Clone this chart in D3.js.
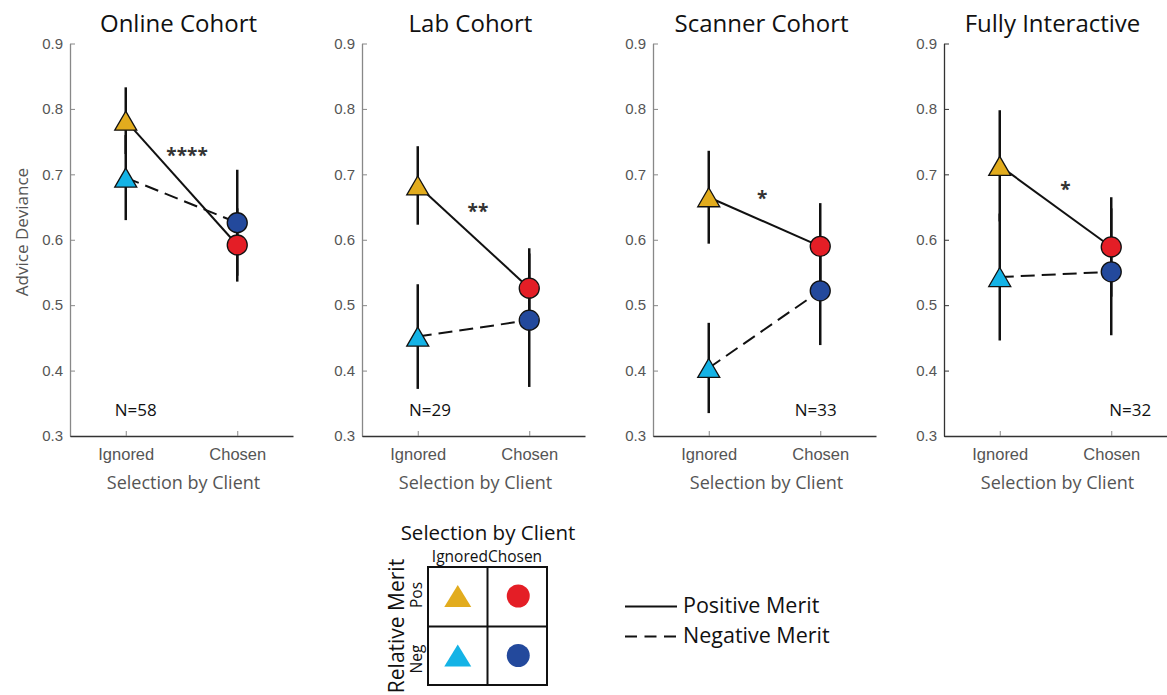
<!DOCTYPE html>
<html lang="en">
  <head>
    <meta charset="UTF-8" />
    <title>Advice Deviance by Selection and Merit</title>
    <style>
      body { margin: 0; background: #fff; }
      svg { display: block; font-family: 'Open Sans', sans-serif; }
      .ylab text { fill: #555; font-size: 15px; }
      .xlab text { fill: #555; font-size: 16.5px; }
    </style>
  </head>
  <body>
    <script src="https://cdn.jsdelivr.net/npm/d3@7"></script>
    <script>
      // cohorts (one panel each)
      const cohorts = ['Online Cohort', 'Lab Cohort', 'Scanner Cohort', 'Fully Interactive'];
      const nLabels = ['N=58', 'N=29', 'N=33', 'N=32'];
      const sigLabels = ['****', '**', '*', '*'];
      const categories = ['Ignored', 'Chosen'];
      const yTicks = [0.3, 0.4, 0.5, 0.6, 0.7, 0.8, 0.9];

      // positive merit: ignored / chosen means and error half-widths
      const posIgnored = [0.782, 0.683, 0.665, 0.713];
      const posIgnoredErr = [0.051, 0.06, 0.071, 0.085];
      const posChosen = [0.592, 0.526, 0.59, 0.589];
      const posChosenErr = [0.056, 0.061, 0.066, 0.076];

      // negative merit
      const negIgnored = [0.695, 0.452, 0.404, 0.543];
      const negIgnoredErr = [0.065, 0.08, 0.069, 0.097];
      const negChosen = [0.626, 0.477, 0.522, 0.551];
      const negChosenErr = [0.081, 0.102, 0.083, 0.097];

      // annotation spots, in data units (category position, value)
      const sigPos = [[1.55, 0.733], [1.54, 0.647], [1.48, 0.667], [1.59, 0.68]];
      const nPos = [[1.09, 0.341], [1.11, 0.341], [1.96, 0.341], [2.17, 0.341]];

      const gold = '#E2AC1E', cyan = '#14B3E6', red = '#E41E26', blue = '#23499C';

      const width = 1167, height = 695;
      const svg = d3.select('body').append('svg')
        .attr('width', width)
        .attr('height', height);

      const panelLeft = [70, 362, 653, 944];
      const axisW = 223;
      const y = d3.scaleLinear().domain([0.3, 0.9]).range([436, 43.5]);
      const x = d3.scaleLinear().domain([0.5, 2.5]).range([0, axisW]);

      const tri = (w, h) => `M0,${-h / 2}L${w / 2},${h / 2}L${-w / 2},${h / 2}Z`;

      cohorts.forEach((name, i) => {
        const g = svg.append('g').attr('transform', `translate(${panelLeft[i]},0)`);
        const axisCol = i === 3 ? '#333' : '#888';

        const ya = g.append('g').attr('class', 'ylab')
          .call(d3.axisLeft(y).tickValues(yTicks).tickSize(-5).tickSizeOuter(0)
            .tickPadding(7).tickFormat(d3.format('.1f')));
        ya.select('.domain').attr('stroke', axisCol).attr('stroke-width', 1.3);
        ya.selectAll('.tick line').attr('stroke', axisCol);

        const xa = g.append('g').attr('class', 'xlab')
          .attr('transform', 'translate(0,436)')
          .call(d3.axisBottom(x).tickValues([1, 2]).tickFormat((d) => categories[d - 1])
            .tickSize(-5).tickSizeOuter(0).tickPadding(12));
        xa.select('.domain').attr('stroke', '#333').attr('stroke-width', 1.3);
        xa.selectAll('.tick line').attr('stroke', '#888');

        g.append('text')
          .attr('x', axisW / 2 - 3).attr('y', 32)
          .attr('text-anchor', 'middle')
          .attr('font-size', 24)
          .attr('fill', '#111')
          .text(name);

        g.append('text')
          .attr('x', axisW / 2 + 2).attr('y', 482)
          .attr('text-anchor', 'middle').attr('dominant-baseline', 'central')
          .attr('font-size', 18).attr('fill', '#555')
          .text('Selection by Client');

        if (i === 0) {
          svg.append('text')
            .attr('transform', 'translate(21,232) rotate(-90)')
            .attr('text-anchor', 'middle').attr('dominant-baseline', 'central')
            .attr('font-size', 17).attr('fill', '#555')
            .text('Advice Deviance');
        }

        const series = [
          { vals: [posIgnored[i], posChosen[i]], errs: [posIgnoredErr[i], posChosenErr[i]], cols: [gold, red], dash: null },
          { vals: [negIgnored[i], negChosen[i]], errs: [negIgnoredErr[i], negChosenErr[i]], cols: [cyan, blue], dash: '14,7' }
        ];

        // error bars
        series.forEach((s) => {
          g.selectAll(null).data(s.vals).enter().append('line')
            .attr('x1', (d, k) => x(k + 1)).attr('x2', (d, k) => x(k + 1))
            .attr('y1', (d, k) => y(d - s.errs[k])).attr('y2', (d, k) => y(d + s.errs[k]))
            .attr('stroke', '#111').attr('stroke-width', 2.5);
        });

        // connecting lines
        const line = d3.line().x((d, k) => x(k + 1)).y((d) => y(d));
        series.forEach((s) => {
          g.append('path').datum(s.vals)
            .attr('d', line)
            .attr('fill', 'none').attr('stroke', '#111').attr('stroke-width', 2)
            .attr('stroke-dasharray', s.dash);
        });

        // markers
        series.forEach((s) => {
          g.append('path')
            .attr('d', tri(22, 19))
            .attr('transform', `translate(${x(1)},${y(s.vals[0])})`)
            .attr('fill', s.cols[0]).attr('stroke', '#111').attr('stroke-width', 1.3);
          g.append('circle')
            .attr('cx', x(2)).attr('cy', y(s.vals[1])).attr('r', 10)
            .attr('fill', s.cols[1]).attr('stroke', '#111').attr('stroke-width', 1.3);
        });

        g.append('text')
          .attr('x', x(sigPos[i][0])).attr('y', y(sigPos[i][1]) + 9)
          .attr('text-anchor', 'middle')
          .attr('font-size', 19).attr('font-weight', 'bold').attr('fill', '#333')
          .text(sigLabels[i]);

        g.append('text')
          .attr('x', x(nPos[i][0])).attr('y', y(nPos[i][1]))
          .attr('text-anchor', 'middle').attr('dominant-baseline', 'central')
          .attr('font-size', 17).attr('fill', '#111')
          .text(nLabels[i]);
      });

      // legend: 2x2 marker grid
      const lg = svg.append('g').attr('transform', 'translate(428,567)');
      const cell = 59.5;
      lg.append('text')
        .attr('x', 60).attr('y', -35)
        .attr('text-anchor', 'middle').attr('dominant-baseline', 'central')
        .attr('font-size', 20.5).attr('fill', '#111')
        .text('Selection by Client');
      lg.append('text')
        .attr('x', 59).attr('y', -11)
        .attr('text-anchor', 'middle').attr('dominant-baseline', 'central')
        .attr('font-size', 15.5).attr('fill', '#111')
        .text(categories.join(''));
      lg.append('text')
        .attr('transform', 'translate(-32,59) rotate(-90)')
        .attr('text-anchor', 'middle').attr('dominant-baseline', 'central')
        .attr('font-size', 21).attr('fill', '#111')
        .text('Relative Merit');
      [['Pos', 28], ['Neg', 92]].forEach(([t, yy]) => {
        lg.append('text')
          .attr('transform', `translate(-12,${yy}) rotate(-90)`)
          .attr('text-anchor', 'middle').attr('dominant-baseline', 'central')
          .attr('font-size', 15.5).attr('fill', '#111')
          .text(t);
      });
      lg.append('rect')
        .attr('width', cell * 2).attr('height', cell * 2 - 1)
        .attr('fill', 'none').attr('stroke', '#111').attr('stroke-width', 2);
      lg.append('line').attr('x1', cell).attr('x2', cell).attr('y1', 0).attr('y2', cell * 2 - 1)
        .attr('stroke', '#111').attr('stroke-width', 2);
      lg.append('line').attr('x1', 0).attr('x2', cell * 2).attr('y1', cell).attr('y2', cell)
        .attr('stroke', '#111').attr('stroke-width', 2);
      [[gold, red], [cyan, blue]].forEach((row, r) => {
        lg.append('path')
          .attr('d', tri(27, 22))
          .attr('transform', `translate(${cell / 2},${cell * r + 29})`)
          .attr('fill', row[0]);
        lg.append('circle')
          .attr('cx', cell * 1.5 + 1).attr('cy', cell * r + 29).attr('r', 11.5)
          .attr('fill', row[1]);
      });

      // legend: line styles
      const ll = svg.append('g').attr('transform', 'translate(625,0)');
      [['Positive Merit', 606.5, null], ['Negative Merit', 636.5, '12,7.5']].forEach(([t, yy, dash]) => {
        ll.append('line')
          .attr('x1', 0).attr('x2', 52).attr('y1', yy).attr('y2', yy)
          .attr('stroke', '#111').attr('stroke-width', 2)
          .attr('stroke-dasharray', dash);
        ll.append('text')
          .attr('x', 58).attr('y', yy - 2)
          .attr('dominant-baseline', 'central')
          .attr('font-size', 21.5).attr('fill', '#111')
          .text(t);
      });
    </script>
  </body>
</html>
